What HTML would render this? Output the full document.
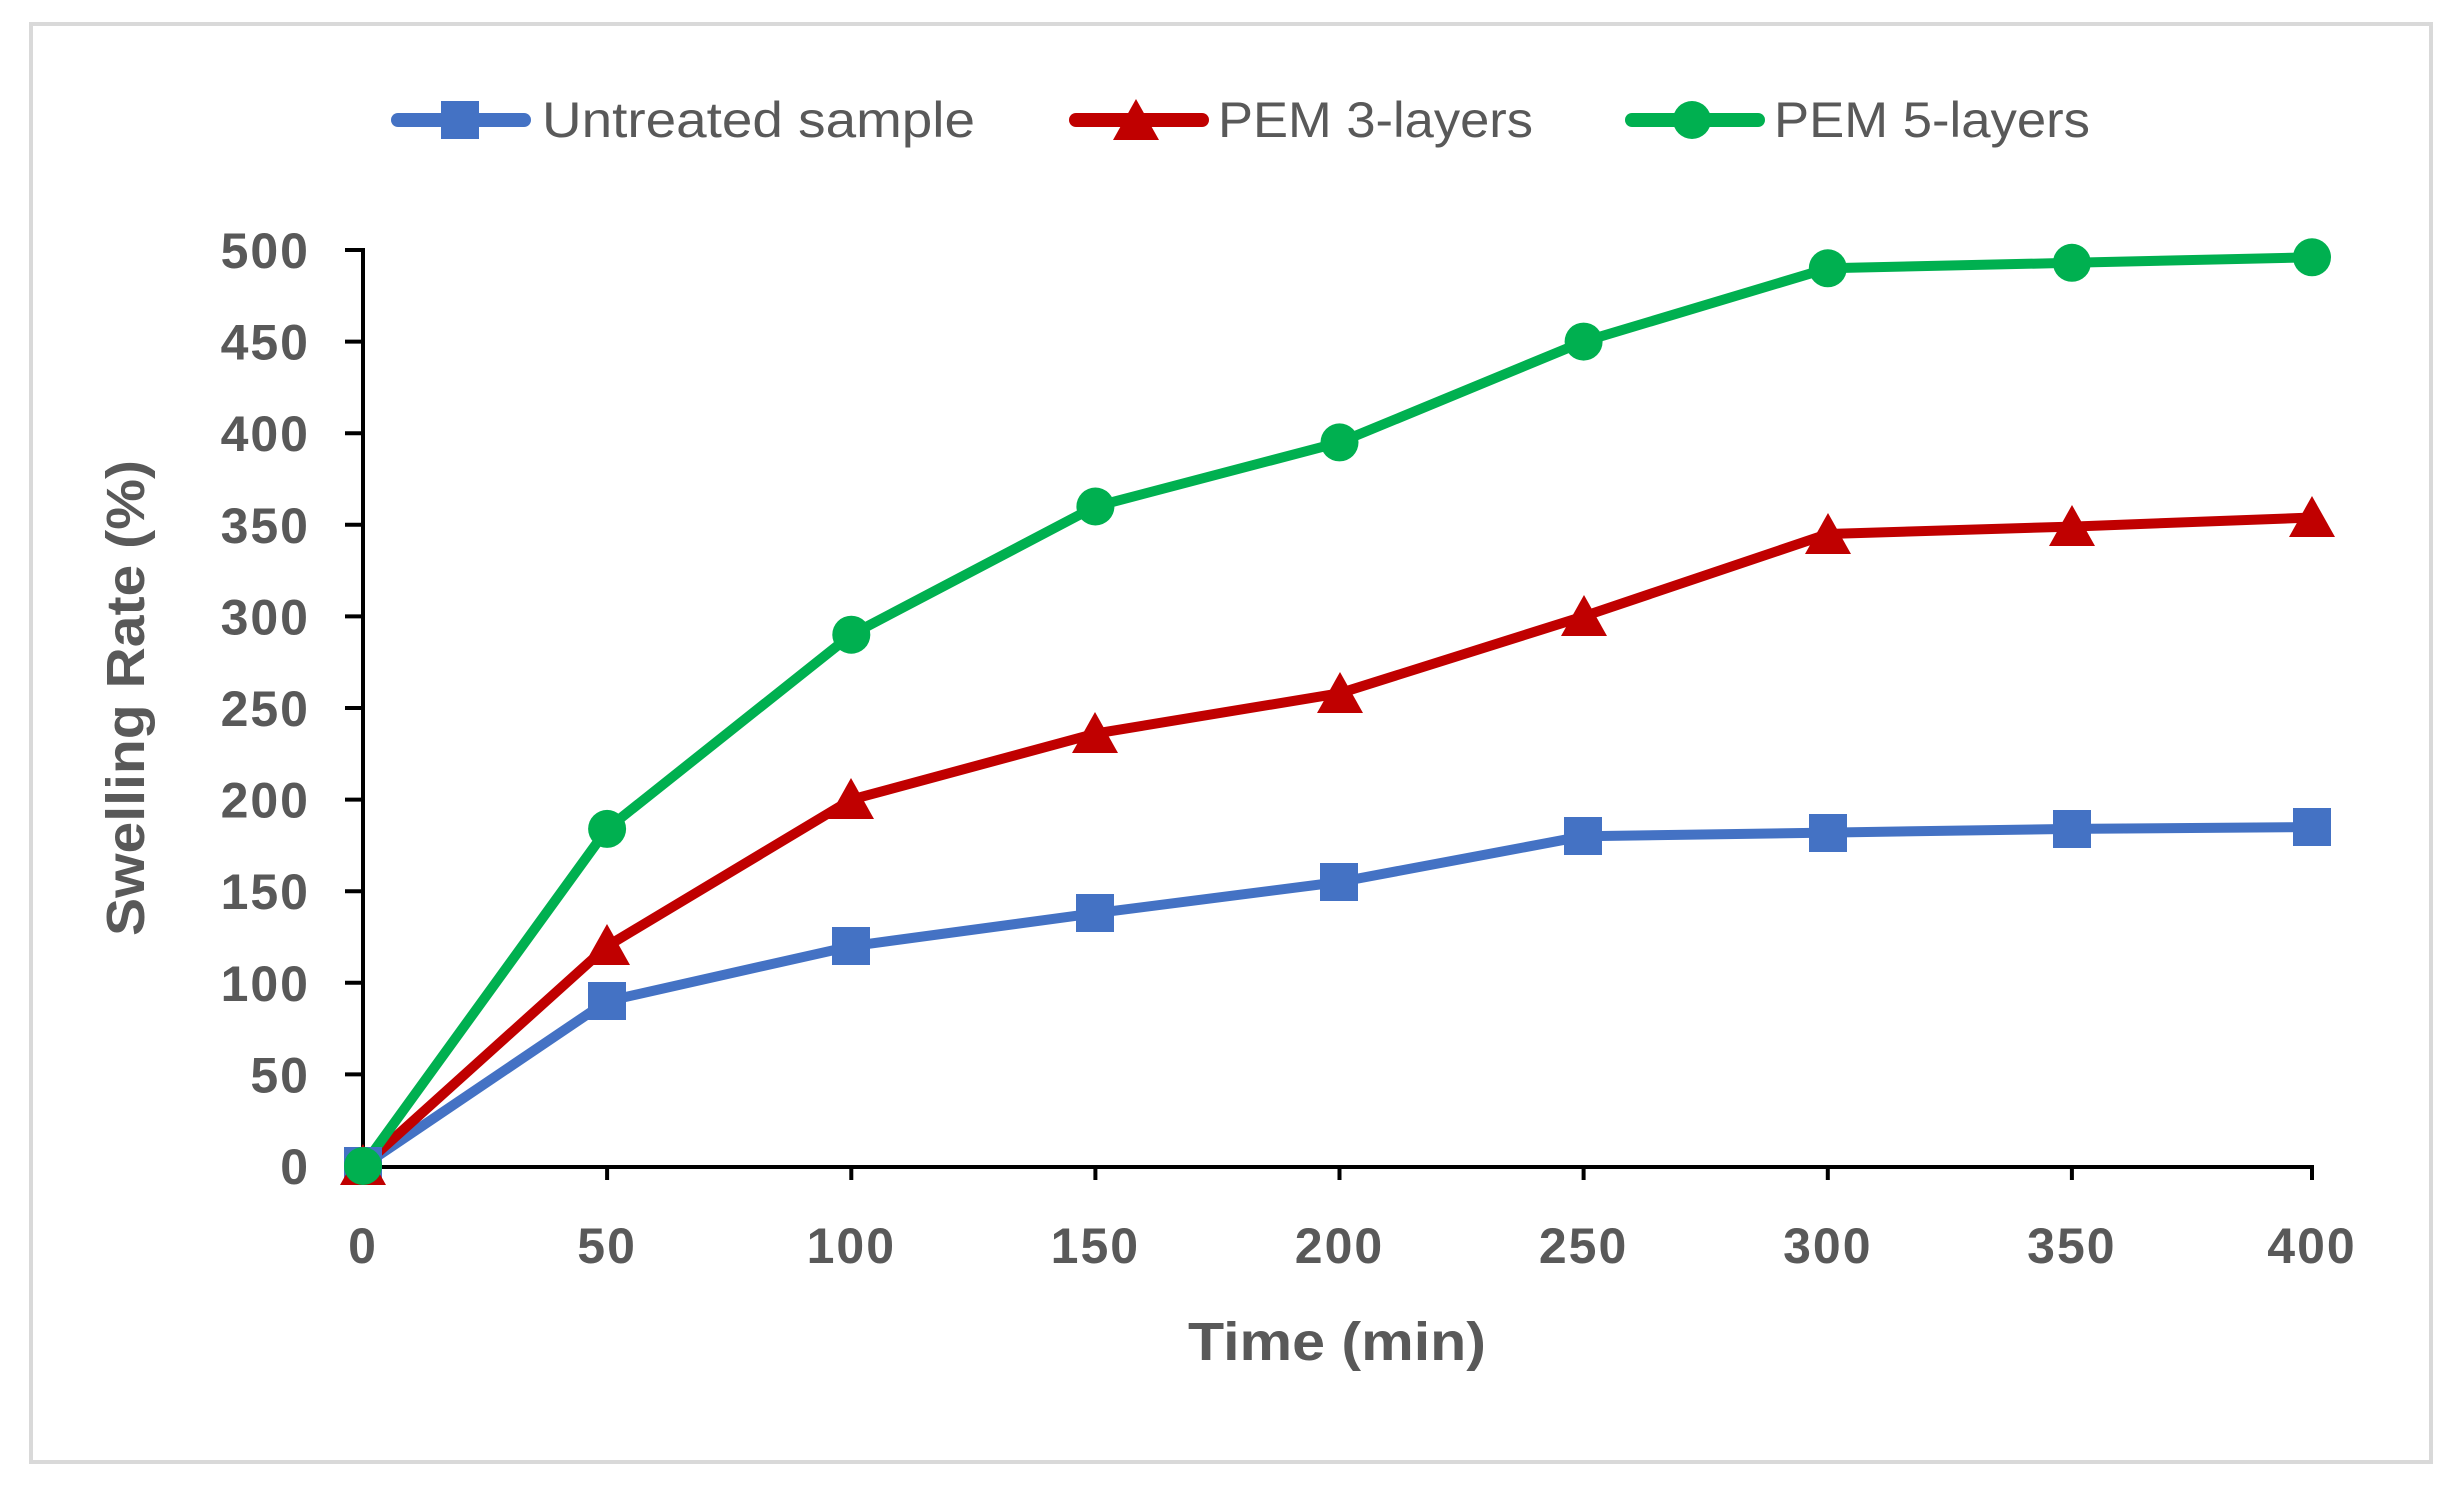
<!DOCTYPE html>
<html><head><meta charset="utf-8"><style>html,body{margin:0;padding:0;background:#fff}svg{display:block}</style></head><body>
<svg width="2461" height="1498" viewBox="0 0 2461 1498" xmlns="http://www.w3.org/2000/svg">
<rect x="0" y="0" width="2461" height="1498" fill="#fff"/>
<rect x="31" y="24" width="2400" height="1438" fill="#fff" stroke="#d9d9d9" stroke-width="4"/>
<g font-family="Liberation Sans, sans-serif" fill="#595959">
<line x1="398" y1="120" x2="524" y2="120" stroke="#4472c4" stroke-width="14" stroke-linecap="round"/>
<rect x="441" y="101" width="38" height="38" fill="#4472c4"/>
<text x="542" y="137" font-size="50" textLength="433" lengthAdjust="spacingAndGlyphs">Untreated sample</text>
<line x1="1076" y1="120" x2="1202" y2="120" stroke="#c00000" stroke-width="14" stroke-linecap="round"/>
<polygon points="1136,99 1159,140 1113,140" fill="#c00000"/>
<text x="1218" y="137" font-size="50" textLength="315" lengthAdjust="spacingAndGlyphs">PEM 3-layers</text>
<line x1="1632" y1="120" x2="1758" y2="120" stroke="#00b050" stroke-width="14" stroke-linecap="round"/>
<circle cx="1692" cy="120" r="19" fill="#00b050"/>
<text x="1774" y="137" font-size="50" textLength="316" lengthAdjust="spacingAndGlyphs">PEM 5-layers</text>
<g stroke="#000" stroke-width="4">
<line x1="363" y1="248" x2="363" y2="1168"/>
<line x1="361" y1="1167" x2="2314" y2="1167"/>
<line x1="345" y1="250" x2="363" y2="250"/>
<line x1="345" y1="341.6" x2="363" y2="341.6"/>
<line x1="345" y1="433.2" x2="363" y2="433.2"/>
<line x1="345" y1="524.8" x2="363" y2="524.8"/>
<line x1="345" y1="616.4" x2="363" y2="616.4"/>
<line x1="345" y1="708" x2="363" y2="708"/>
<line x1="345" y1="799.6" x2="363" y2="799.6"/>
<line x1="345" y1="891.2" x2="363" y2="891.2"/>
<line x1="345" y1="982.8" x2="363" y2="982.8"/>
<line x1="345" y1="1074.4" x2="363" y2="1074.4"/>
<line x1="345" y1="1166" x2="363" y2="1166"/>
<line x1="607.1" y1="1167" x2="607.1" y2="1180"/>
<line x1="851.3" y1="1167" x2="851.3" y2="1180"/>
<line x1="1095.4" y1="1167" x2="1095.4" y2="1180"/>
<line x1="1339.5" y1="1167" x2="1339.5" y2="1180"/>
<line x1="1583.6" y1="1167" x2="1583.6" y2="1180"/>
<line x1="1827.8" y1="1167" x2="1827.8" y2="1180"/>
<line x1="2071.9" y1="1167" x2="2071.9" y2="1180"/>
<line x1="2312" y1="1167" x2="2312" y2="1180"/>
</g>
<g font-size="50" font-weight="bold" text-anchor="end" letter-spacing="2">
<text x="310" y="268">500</text><text x="310" y="359.6">450</text><text x="310" y="451.2">400</text><text x="310" y="542.8">350</text><text x="310" y="634.4">300</text><text x="310" y="726">250</text><text x="310" y="817.6">200</text><text x="310" y="909.2">150</text><text x="310" y="1000.8">100</text><text x="310" y="1092.4">50</text><text x="310" y="1184">0</text>
</g>
<g font-size="50" font-weight="bold" text-anchor="middle" letter-spacing="2">
<text x="363" y="1263">0</text><text x="607.1" y="1263">50</text><text x="851.3" y="1263">100</text><text x="1095.4" y="1263">150</text><text x="1339.5" y="1263">200</text><text x="1583.6" y="1263">250</text><text x="1827.8" y="1263">300</text><text x="2071.9" y="1263">350</text><text x="2312" y="1263">400</text>
</g>
<text x="1337" y="1360" font-size="54" font-weight="bold" text-anchor="middle" textLength="298" lengthAdjust="spacingAndGlyphs">Time (min)</text>
<text transform="translate(144,698) rotate(-90)" font-size="54" font-weight="bold" text-anchor="middle" textLength="476" lengthAdjust="spacingAndGlyphs">Swelling Rate (%)</text>
</g>
<g fill="none" stroke-width="10" stroke-linejoin="round">
<polyline stroke="#4472c4" points="363,1166 607.1,1001.1 851.3,946.2 1095.4,913.2 1339.5,882.0 1583.6,836.2 1827.8,832.6 2071.9,828.9 2312,827.1"/>
<polyline stroke="#c00000" points="363,1166 607.1,946.2 851.3,799.6 1095.4,733.6 1339.5,693.3 1583.6,616.4 1827.8,534.0 2071.9,526.6 2312,517.5"/>
<polyline stroke="#00b050" points="363,1166 607.1,828.9 851.3,634.7 1095.4,506.5 1339.5,442.4 1583.6,341.6 1827.8,268.3 2071.9,262.8 2312,257.3"/>
</g>
<g fill="#4472c4">
<rect x="344" y="1147" width="38" height="38"/><rect x="588" y="982" width="38" height="38"/><rect x="832" y="927" width="38" height="38"/><rect x="1076" y="894" width="38" height="38"/><rect x="1320" y="863" width="38" height="38"/><rect x="1564" y="817" width="38" height="38"/><rect x="1809" y="814" width="38" height="38"/><rect x="2053" y="810" width="38" height="38"/><rect x="2293" y="808" width="38" height="38"/>
</g>
<g fill="#c00000">
<polygon points="363,1144 386,1185 340,1185"/><polygon points="607,924 630,965 584,965"/><polygon points="851,778 874,819 828,819"/><polygon points="1095,712 1118,753 1072,753"/><polygon points="1340,672 1363,713 1317,713"/><polygon points="1584,595 1607,636 1561,636"/><polygon points="1828,513 1851,554 1805,554"/><polygon points="2072,505 2095,546 2049,546"/><polygon points="2312,496 2335,537 2289,537"/>
</g>
<g fill="#00b050">
<circle cx="363" cy="1166" r="19"/><circle cx="607.1" cy="828.9" r="19"/><circle cx="851.3" cy="634.7" r="19"/><circle cx="1095.4" cy="506.5" r="19"/><circle cx="1339.5" cy="442.4" r="19"/><circle cx="1583.6" cy="341.6" r="19"/><circle cx="1827.8" cy="268.3" r="19"/><circle cx="2071.9" cy="262.8" r="19"/><circle cx="2312" cy="257.3" r="19"/>
</g>
</svg>
</body></html>
